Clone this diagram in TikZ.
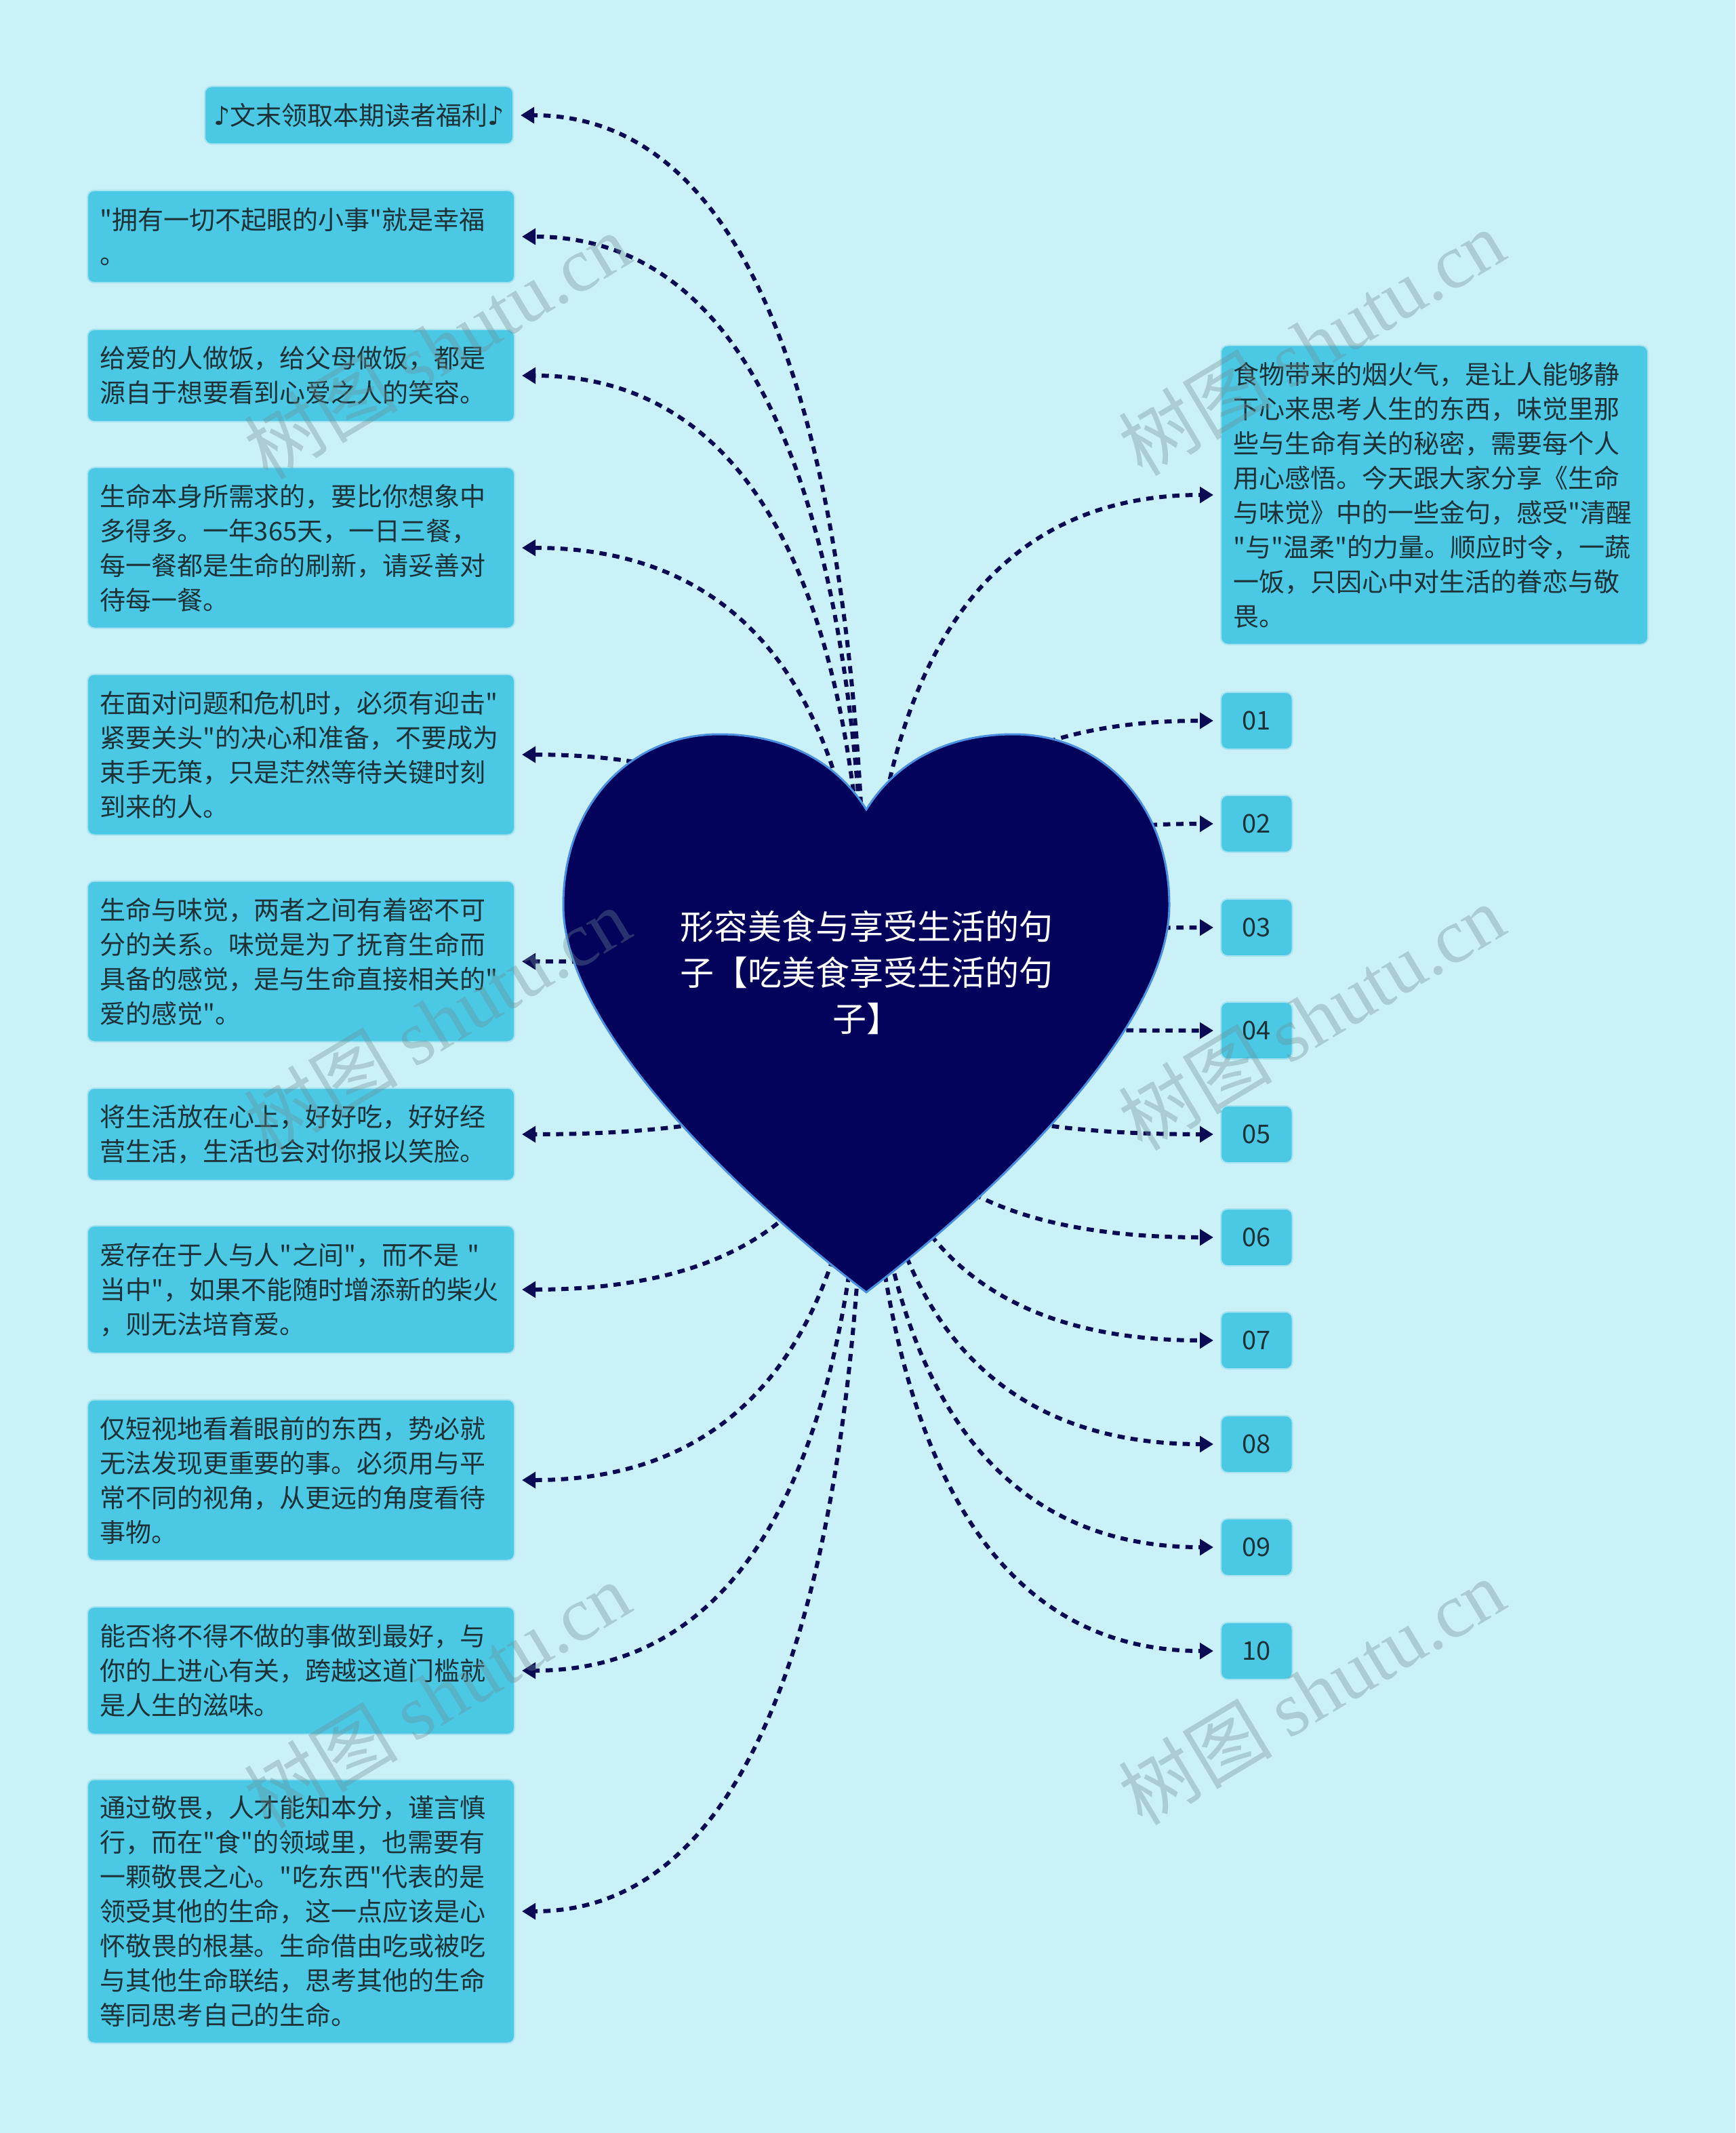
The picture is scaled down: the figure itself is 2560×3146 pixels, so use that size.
\documentclass[tikz,border=0pt]{standalone}
\usepackage{fontspec}
\setmainfont{Noto Sans CJK SC}
\newfontfamily\wmserif{Liberation Serif}
\newfontfamily\wmcjk{Noto Sans CJK SC}
\newfontfamily\dejavu{DejaVu Sans}
\font\cjkq="Noto Sans CJK SC" at 11.4pt
\newcommand{\dq}{{\cjkq"}}
\usetikzlibrary{arrows.meta,calc}
\definecolor{bg}{HTML}{CAF0F8}
\definecolor{boxfill}{HTML}{4BC8E4}
\definecolor{boxline}{HTML}{A6E3F0}
\definecolor{txt}{HTML}{1D3136}
\definecolor{heartfill}{HTML}{03035B}
\definecolor{heartline}{HTML}{4A8FE0}
\definecolor{conncol}{HTML}{0B0B55}
\definecolor{wm}{HTML}{6F8C92}
\newcommand{\connL}[1]{\draw[conn] (hc) .. controls ($(hc)!0.6667!(hc|-#1.east)$) and ($(#1.east)!0.6667!(hc|-#1.east)$) .. (#1.east);}
\newcommand{\connR}[1]{\draw[conn] (hc) .. controls ($(hc)!0.6667!(hc|-#1.west)$) and ($(#1.west)!0.6667!(hc|-#1.west)$) .. (#1.west);}
\begin{document}
\begin{tikzpicture}[x=0.3pt,y=-0.3pt,
  leaf/.style={fill=boxfill, draw=boxline, line width=0.6pt, rounded corners=3pt, text=txt,
    font=\fontsize{11.4pt}{15.3pt}\selectfont, text width=178.2pt, align=left,
    inner xsep=5.4pt, inner ysep=0pt, anchor=west},
  numbox/.style={fill=boxfill, draw=boxline, line width=0.6pt, rounded corners=3pt, text=txt,
    font=\fontsize{11.4pt}{15.3pt}\selectfont, inner xsep=9.5pt, inner ysep=0pt,
    minimum height=25.2pt, anchor=west},
  conn/.style={draw=conncol, line width=1.8pt, dash pattern=on 3.2pt off 2.6pt,
    -{Triangle[length=6pt,width=7pt]}, shorten >=3pt},
  wmark/.style={rotate=31, text=wm, text opacity=0.35, inner sep=0pt}
]
\useasboundingbox[fill=bg] (0,0) rectangle (2560,3146);

% leaf nodes, left
\node[leaf, anchor=east, text width=136.5pt, align=center, inner xsep=0pt, minimum height=25.5pt] (L1) at (758,170) {{\dejavu ♪}文末领取本期读者福利{\dejavu ♪}};
\node[leaf, minimum height=40.8pt] (L2) at (128,349) {\dq 拥有一切不起眼的小事\dq 就是幸福\\。};
\node[leaf, minimum height=40.8pt] (L3) at (128,554) {给爱的人做饭，给父母做饭，都是\\源自于想要看到心爱之人的笑容。};
\node[leaf, minimum height=71.1pt] (L4) at (128,808) {生命本身所需求的，要比你想象中\\多得多。一年365天，一日三餐，\\每一餐都是生命的刷新，请妥善对\\待每一餐。};
\node[leaf, minimum height=71.1pt] (L5) at (128,1113) {在面对问题和危机时，必须有迎击\dq\\紧要关头\dq 的决心和准备，不要成为\\束手无策，只是茫然等待关键时刻\\到来的人。};
\node[leaf, minimum height=71.1pt] (L6) at (128,1418) {生命与味觉，两者之间有着密不可\\分的关系。味觉是为了抚育生命而\\具备的感觉，是与生命直接相关的\dq\\爱的感觉\dq 。};
\node[leaf, minimum height=40.8pt] (L7) at (128,1673) {将生活放在心上，好好吃，好好经\\营生活，生活也会对你报以笑脸。};
\node[leaf, minimum height=56.4pt] (L8) at (128,1902) {爱存在于人与人\dq 之间\dq ，而不是~\dq\\当中\dq ，如果不能随时增添新的柴火\\，则无法培育爱。};
\node[leaf, minimum height=71.1pt] (L9) at (128,2183) {仅短视地看着眼前的东西，势必就\\无法发现更重要的事。必须用与平\\常不同的视角，从更远的角度看待\\事物。};
\node[leaf, minimum height=56.4pt] (L10) at (128,2464) {能否将不得不做的事做到最好，与\\你的上进心有关，跨越这道门槛就\\是人生的滋味。};
\node[leaf, minimum height=116.7pt] (L11) at (128,2819) {通过敬畏，人才能知本分，谨言慎\\行，而在\dq 食\dq 的领域里，也需要有\\一颗敬畏之心。\dq 吃东西\dq 代表的是\\领受其他的生命，这一点应该是心\\怀敬畏的根基。生命借由吃或被吃\\与其他生命联结，思考其他的生命\\等同思考自己的生命。};

% right nodes
\node[leaf, minimum height=132.3pt] (R0) at (1800,730) {食物带来的烟火气，是让人能够静\\下心来思考人生的东西，味觉里那\\些与生命有关的秘密，需要每个人\\用心感悟。今天跟大家分享《生命\\与味觉》中的一些金句，感受\dq 清醒\\\dq 与\dq 温柔\dq 的力量。顺应时令，一蔬\\一饭，只因心中对生活的眷恋与敬\\畏。};
\node[numbox] (N1) at (1800,1063) {01};
\node[numbox] (N2) at (1800,1215) {02};
\node[numbox] (N3) at (1800,1368) {03};
\node[numbox] (N4) at (1800,1520) {04};
\node[numbox] (N5) at (1800,1673) {05};
\node[numbox] (N6) at (1800,1825) {06};
\node[numbox] (N7) at (1800,1977) {07};
\node[numbox] (N8) at (1800,2130) {08};
\node[numbox] (N9) at (1800,2282) {09};
\node[numbox] (N10) at (1800,2435) {10};

% heart centre
\coordinate (hc) at (1278,1495);

% connectors
\foreach \n in {L1,L2,L3,L4,L5,L6,L7,L8,L9,L10,L11} {\connL{\n}}
\foreach \n in {R0,N1,N2,N3,N4,N5,N6,N7,N8,N9,N10} {\connR{\n}}

% heart
\path[fill=heartfill, draw=heartline, line width=0.9pt]
  (1278,1194) .. controls (1325,1118) and (1405,1083) .. (1495,1083)
  .. controls (1625,1083) and (1725,1185) .. (1725,1335)
  .. controls (1725,1530) and (1430,1790) .. (1278,1906)
  .. controls (1126,1790) and (831,1530) .. (831,1335)
  .. controls (831,1185) and (931,1083) .. (1061,1083)
  .. controls (1151,1083) and (1231,1118) .. (1278,1194) -- cycle;
\node[text=white, align=center, inner sep=0pt, font=\fontsize{15pt}{20.4pt}\selectfont] (ht) at (1278,1434) {形容美食与享受生活的句\\子【吃美食享受生活的句\\子】};

% watermarks
\foreach \wx/\wy [count=\i] in {645/510, 1935/505, 645/1505, 1935/1500, 645/2500, 1935/2495} {
  \node[wmark] (wm\i) at (\wx,\wy) {\fontsize{34pt}{34pt}\selectfont\wmcjk 树图 \wmserif shutu.cn};
}
\end{tikzpicture}
\end{document}
